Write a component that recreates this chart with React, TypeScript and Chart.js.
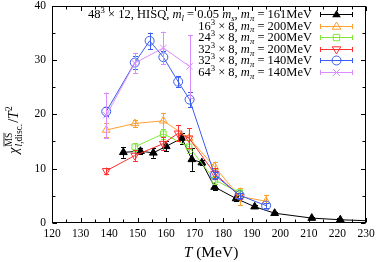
import React, { useEffect, useRef } from "react";
import { Chart, registerables } from "chart.js";
Chart.register(...registerables);

// ---- data ----
const blackT = [145, 151, 155.5, 160, 165.5, 169, 172.5, 177, 184.5, 191, 198, 211, 221, 236];
const blackV = [13.0, 13.2, 12.9, 14.1, 15.6, 11.7, 11.1, 6.6, 4.5, 3.0, 1.8, 0.9, 0.6, 0.3];
const blackE = [1.0, 0.6, 0.9, 0.9, 1.0, 2.1, 0.5, 0.6, 0.5, 0.3, 0.3, 0.2, 0.1, 0.1];

const orangeT = [139, 149, 159, 168, 177, 185.7, 195];
const orangeV = [17.1, 18.3, 18.8, 15.6, 10.3, 4.9, 4.0];
const orangeE = [1.2, 0.7, 1.5, 1.9, 1.0, 1.6, 1.2];

const greenT = [149, 159, 168, 177, 185.7];
const greenV = [14.0, 16.4, 14.0, 7.9, 5.6];
const greenE = [0.7, 0.9, 1.2, 0.8, 0.5];

const redT = [139, 149, 159, 164.2, 168, 177, 185.7];
const redV = [9.6, 12.4, 14.6, 16.5, 15.6, 9.1, 5.0];
const redE = [0.6, 1.0, 1.2, 1.5, 1.8, 1.0, 0.5];

const blueT = [139, 149, 154.2, 159, 164.2, 168.2, 177, 185.7, 195];
const blueV = [20.5, 29.5, 33.5, 30.5, 26.0, 22.7, 8.8, 5.1, 3.2];
const blueE = [0.8, 1.2, 1.5, 1.2, 1.0, 1.4, 0.6, 0.5, 0.4];

const violetT = [139, 149, 159, 168.2];
const violetV = [19.8, 29.4, 32.2, 28.8];
const violetE = [4.2, 1.8, 3.0, 5.8];

const seriesLabels = [
  "48^{3} × 12, HISQ, *m*_{*l*} = 0.05 *m*_{*s*}, *m*_{*π*} = 161MeV",
  "16^{3} × 8, *m*_{*π*} = 200MeV",
  "24^{3} × 8, *m*_{*π*} = 200MeV",
  "32^{3} × 8, *m*_{*π*} = 200MeV",
  "32^{3} × 8, *m*_{*π*} = 140MeV",
  "64^{3} × 8, *m*_{*π*} = 140MeV",
];
const xTitle = "*T* (MeV)";
const xMin = 120, xMax = 230, xStep = 10;
const yMin = 0, yMax = 40, yStep = 10;

const FONT = '"Liberation Serif", "DejaVu Serif", serif';

type Seg = { t: string; italic: boolean; mode: "n" | "sup" | "sub" };
function parseRich(s: string): Seg[] {
  const out: Seg[] = [];
  let italic = false;
  let mode: "n" | "sup" | "sub" = "n";
  let buf = "";
  const flush = () => {
    if (buf) { out.push({ t: buf, italic, mode }); buf = ""; }
  };
  for (let i = 0; i < s.length; i++) {
    const c = s[i];
    if (c === "*") { flush(); italic = !italic; continue; }
    if ((c === "^" || c === "_") && s[i + 1] === "{") { flush(); mode = c === "^" ? "sup" : "sub"; i++; continue; }
    if (c === "}" && mode !== "n") { flush(); mode = "n"; continue; }
    buf += c;
  }
  flush();
  return out;
}
function segFont(seg: Seg, size: number) {
  const sz = seg.mode === "n" ? size : size * 0.7;
  return `${seg.italic ? "italic " : ""}${sz}px ${FONT}`;
}
function richWidth(ctx: CanvasRenderingContext2D, segs: Seg[], size: number) {
  let w = 0;
  for (const s of segs) { ctx.font = segFont(s, size); w += ctx.measureText(s.t).width; }
  return w;
}
function drawRich(ctx: CanvasRenderingContext2D, segs: Seg[], x: number, y: number, size: number) {
  ctx.textBaseline = "alphabetic";
  ctx.textAlign = "left";
  let cx = x;
  for (const s of segs) {
    ctx.font = segFont(s, size);
    const dy = s.mode === "sup" ? -size * 0.4 : s.mode === "sub" ? size * 0.22 : 0;
    ctx.fillText(s.t, cx, y + dy);
    cx += ctx.measureText(s.t).width;
  }
}

const colors = ["#000000", "#ffa030", "#80e838", "#ff3030", "#3a5cf0", "#d98cff"];
const styles: any[] = ["triangle", "triangle", "rect", "triangle", "circle", "crossRot"];
const rotations = [0, 0, 0, 180, 0, 0];
const radii = [4.5, 4.5, 4, 4.5, 4.5, 4.5];
const filled = [true, false, false, false, false, false];
const Ts = [blackT, orangeT, greenT, redT, blueT, violetT];
const Vs = [blackV, orangeV, greenV, redV, blueV, violetV];
const Es = [blackE, orangeE, greenE, redE, blueE, violetE];

function drawMarker(ctx: CanvasRenderingContext2D, i: number, x: number, y: number) {
  const r = radii[i];
  ctx.save();
  ctx.strokeStyle = colors[i];
  ctx.fillStyle = colors[i];
  ctx.lineWidth = 1;
  ctx.beginPath();
  const st = styles[i];
  if (st === "triangle") {
    const s = rotations[i] === 180 ? -1 : 1;
    ctx.moveTo(x, y - s * r);
    ctx.lineTo(x + r * 0.866 * 1.1, y + s * r * 0.6);
    ctx.lineTo(x - r * 0.866 * 1.1, y + s * r * 0.6);
    ctx.closePath();
  } else if (st === "rect") {
    ctx.rect(x - r * 0.8, y - r * 0.8, r * 1.6, r * 1.6);
  } else if (st === "circle") {
    ctx.arc(x, y, r, 0, Math.PI * 2);
  } else {
    const d = r * 0.75;
    ctx.moveTo(x - d, y - d); ctx.lineTo(x + d, y + d);
    ctx.moveTo(x + d, y - d); ctx.lineTo(x - d, y + d);
  }
  if (filled[i]) ctx.fill(); else ctx.stroke();
  ctx.restore();
}

const errorBarPlugin = {
  id: "errbars",
  afterDatasetDraw(chart: any, args: any) {
    const i = args.index;
    const ctx: CanvasRenderingContext2D = chart.ctx;
    const xs = chart.scales.x, ys = chart.scales.y;
    const a = chart.chartArea;
    ctx.save();
    ctx.beginPath();
    ctx.rect(a.left, a.top, a.right - a.left, a.bottom - a.top);
    ctx.clip();
    ctx.strokeStyle = colors[i];
    ctx.lineWidth = 1;
    const T = Ts[i], V = Vs[i], E = Es[i];
    for (let k = 0; k < T.length; k++) {
      const px = Math.round(xs.getPixelForValue(T[k])) + 0.5;
      const y1 = ys.getPixelForValue(V[k] + E[k]);
      const y2 = ys.getPixelForValue(V[k] - E[k]);
      ctx.beginPath();
      ctx.moveTo(px, y1); ctx.lineTo(px, y2);
      ctx.moveTo(px - 2.5, Math.round(y1) + 0.5); ctx.lineTo(px + 2.5, Math.round(y1) + 0.5);
      ctx.moveTo(px - 2.5, Math.round(y2) + 0.5); ctx.lineTo(px + 2.5, Math.round(y2) + 0.5);
      ctx.stroke();
    }
    ctx.restore();
  },
};

const framePlugin = {
  id: "frame",
  afterDraw(chart: any) {
    const ctx: CanvasRenderingContext2D = chart.ctx;
    const a = chart.chartArea;
    const xs = chart.scales.x, ys = chart.scales.y;
    ctx.save();
    ctx.strokeStyle = "#000";
    ctx.lineWidth = 1;
    const L = Math.round(a.left) + 0.5, R = Math.round(a.right) - 0.5;
    const Tp = Math.round(a.top) + 0.5, B = Math.round(a.bottom) - 0.5;
    ctx.strokeRect(L, Tp, R - L, B - Tp);
    ctx.beginPath();
    for (let v = xMin; v <= xMax; v += xStep / 2) {
      const len = (v - xMin) % xStep === 0 ? 4.5 : 3;
      const px = Math.round(xs.getPixelForValue(v)) + 0.5;
      ctx.moveTo(px, B); ctx.lineTo(px, B - len);
      ctx.moveTo(px, Tp); ctx.lineTo(px, Tp + len);
    }
    for (let v = yMin; v <= yMax; v += yStep / 2) {
      const len = (v - yMin) % yStep === 0 ? 4.5 : 3;
      const py = Math.round(ys.getPixelForValue(v)) + 0.5;
      ctx.moveTo(L, py); ctx.lineTo(L + len, py);
      ctx.moveTo(R, py); ctx.lineTo(R - len, py);
    }
    ctx.stroke();

    // legend
    ctx.fillStyle = "#000";
    const size = 12.5;
    for (let i = 0; i < seriesLabels.length; i++) {
      const y = 14 + i * 11.6;
      const segs = parseRich(seriesLabels[i]);
      const w = richWidth(ctx, segs, size);
      ctx.fillStyle = "#000";
      drawRich(ctx, segs, 312 - w, y + 4, size);
      ctx.strokeStyle = colors[i];
      ctx.lineWidth = 1;
      ctx.beginPath();
      const yy = Math.round(y) + 0.5;
      ctx.moveTo(320, yy); ctx.lineTo(353, yy);
      ctx.moveTo(320.5, yy - 2.5); ctx.lineTo(320.5, yy + 2.5);
      ctx.moveTo(352.5, yy - 2.5); ctx.lineTo(352.5, yy + 2.5);
      ctx.stroke();
      drawMarker(ctx, i, 336.5, yy);
    }

    // x title
    const xt = parseRich(xTitle);
    const xs2 = 15.5;
    const xw = richWidth(ctx, xt, xs2);
    ctx.fillStyle = "#000";
    drawRich(ctx, xt, (a.left + a.right) / 2 - xw / 2 + 2, 257, xs2);

    // y title: chi^{MS-bar}_{l,disc.}/T^2
    ctx.save();
    ctx.translate(18, 130);
    ctx.rotate(-Math.PI / 2);
    const big = 14, small = 9.5;
    ctx.font = `italic ${big}px ${FONT}`;
    const wChi = ctx.measureText("χ").width;
    ctx.font = `${small}px ${FONT}`;
    const wMS = ctx.measureText("MS").width;
    ctx.font = `italic ${small}px ${FONT}`;
    const wl = ctx.measureText("l").width;
    ctx.font = `${small}px ${FONT}`;
    const wdisc = ctx.measureText(",disc.").width;
    const wSub = wl + wdisc;
    const wScript = Math.max(wMS, wSub);
    ctx.font = `${big}px ${FONT}`;
    const wSlash = ctx.measureText("/").width;
    ctx.font = `italic ${big}px ${FONT}`;
    const wT = ctx.measureText("T").width;
    ctx.font = `${small}px ${FONT}`;
    const w2 = ctx.measureText("2").width;
    const total = wChi + 1 + wScript + 1 + wSlash + wT + w2;
    let cx = -total / 2;
    ctx.textBaseline = "alphabetic";
    ctx.textAlign = "left";
    ctx.fillStyle = "#000";
    ctx.font = `italic ${big}px ${FONT}`;
    ctx.fillText("χ", cx, 0);
    cx += wChi + 1;
    ctx.font = `${small}px ${FONT}`;
    ctx.fillText("MS", cx, -6);
    ctx.strokeStyle = "#000";
    ctx.lineWidth = 0.8;
    ctx.beginPath();
    ctx.moveTo(cx, -14); ctx.lineTo(cx + wMS, -14);
    ctx.stroke();
    ctx.font = `italic ${small}px ${FONT}`;
    ctx.fillText("l", cx, 4);
    ctx.font = `${small}px ${FONT}`;
    ctx.fillText(",disc.", cx + wl, 4);
    cx += wScript + 1;
    ctx.font = `${big}px ${FONT}`;
    ctx.fillText("/", cx, 0);
    cx += wSlash;
    ctx.font = `italic ${big}px ${FONT}`;
    ctx.fillText("T", cx, 0);
    cx += wT;
    ctx.font = `${small}px ${FONT}`;
    ctx.fillText("2", cx, -6);
    ctx.restore();

    ctx.restore();
  },
};

export default function App() {
  const ref = useRef<HTMLCanvasElement | null>(null);
  useEffect(() => {
    document.body.style.margin = "0";
    const canvas = ref.current!;
    const datasets = Ts.map((T, i) => ({
      label: seriesLabels[i],
      data: T.map((t, k) => ({ x: t, y: Vs[i][k] })),
      showLine: true,
      borderColor: colors[i],
      backgroundColor: filled[i] ? colors[i] : "rgba(0,0,0,0)",
      borderWidth: 1,
      pointStyle: styles[i],
      rotation: rotations[i],
      pointRadius: radii[i],
      pointBorderWidth: 1,
      pointBorderColor: colors[i],
      pointBackgroundColor: filled[i] ? colors[i] : "rgba(0,0,0,0)",
      order: 5 - i,
      tension: 0,
    }));
    const chart = new Chart(canvas, {
      type: "scatter",
      data: { datasets },
      options: {
        responsive: false,
        animation: false,
        devicePixelRatio: 1,
        layout: { padding: { top: 5, right: 12, left: 0, bottom: 0 } },
        plugins: { legend: { display: false }, tooltip: { enabled: false } },
        scales: {
          x: {
            type: "linear",
            min: xMin,
            max: xMax,
            grid: { display: false, drawTicks: false },
            border: { display: false },
            ticks: { stepSize: xStep, color: "#000", font: { family: FONT, size: 11.5 }, padding: 4, maxRotation: 0 },
            afterFit: (s: any) => { s.height = 39; s.paddingLeft = 0; s.paddingRight = 0; },
          },
          y: {
            type: "linear",
            min: yMin,
            max: yMax,
            grid: { display: false, drawTicks: false },
            border: { display: false },
            ticks: { stepSize: yStep, color: "#000", font: { family: FONT, size: 11.5 }, padding: 6 },
            afterFit: (s: any) => { s.width = 52; s.paddingTop = 0; s.paddingBottom = 0; },
          },
        },
      },
      plugins: [errorBarPlugin, framePlugin],
    } as any);
    return () => chart.destroy();
  }, []);
  return (
    <div style={{ width: 378, height: 262 }}>
      <canvas ref={ref} width={378} height={262} style={{ width: 378, height: 262, display: "block" }} />
    </div>
  );
}
